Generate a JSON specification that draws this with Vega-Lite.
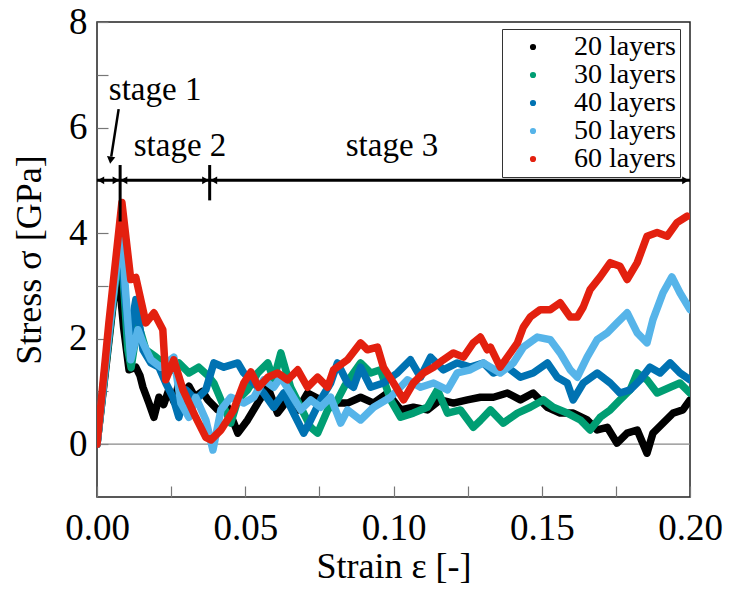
{
  "$schema": "https://vega.github.io/schema/vega-lite/v6.json",
  "width": 593,
  "height": 475,
  "autosize": {"type": "none"},
  "padding": {"left": 97, "top": 22, "right": 46, "bottom": 95},
  "background": "white",
  "config": {
    "font": "Liberation Serif",
    "view": {"stroke": "#222222", "strokeWidth": 1.5},
    "axis": {
      "grid": false,
      "domain": false,
      "tickColor": "#777777",
      "tickWidth": 1.2,
      "tickSize": -11,
      "labelFont": "Liberation Serif",
      "labelFontSize": 37,
      "labelColor": "black",
      "labelFlush": false,
      "labelBound": false,
      "labelOverlap": false,
      "titleFont": "Liberation Serif",
      "titleFontSize": 36,
      "titleFontWeight": "normal",
      "titleColor": "black"
    },
    "legend": {
      "labelFont": "Liberation Serif",
      "labelFontSize": 28,
      "labelColor": "black"
    }
  },
  "datasets": {
    "curves": [
      {"x":0,"y":0,"s":"20 layers"},{"x":0.0035,"y":1.7,"s":"20 layers"},{"x":0.0067,"y":3.27,"s":"20 layers"},{"x":0.0075,"y":3.1,"s":"20 layers"},{"x":0.009,"y":2.2,"s":"20 layers"},{"x":0.0108,"y":1.41,"s":"20 layers"},{"x":0.0131,"y":1.46,"s":"20 layers"},{"x":0.0145,"y":1.3,"s":"20 layers"},{"x":0.0155,"y":1.08,"s":"20 layers"},{"x":0.0175,"y":0.78,"s":"20 layers"},{"x":0.0192,"y":0.51,"s":"20 layers"},{"x":0.0209,"y":0.89,"s":"20 layers"},{"x":0.0225,"y":0.75,"s":"20 layers"},{"x":0.0242,"y":1.03,"s":"20 layers"},{"x":0.026,"y":0.8,"s":"20 layers"},{"x":0.0276,"y":1.16,"s":"20 layers"},{"x":0.029,"y":0.95,"s":"20 layers"},{"x":0.031,"y":1.1,"s":"20 layers"},{"x":0.033,"y":0.9,"s":"20 layers"},{"x":0.0355,"y":1.0,"s":"20 layers"},{"x":0.0374,"y":0.84,"s":"20 layers"},{"x":0.0407,"y":0.65,"s":"20 layers"},{"x":0.0441,"y":0.7,"s":"20 layers"},{"x":0.0475,"y":0.21,"s":"20 layers"},{"x":0.0508,"y":0.46,"s":"20 layers"},{"x":0.0542,"y":0.78,"s":"20 layers"},{"x":0.0576,"y":1.08,"s":"20 layers"},{"x":0.0609,"y":0.59,"s":"20 layers"},{"x":0.0643,"y":0.84,"s":"20 layers"},{"x":0.0677,"y":0.65,"s":"20 layers"},{"x":0.071,"y":0.97,"s":"20 layers"},{"x":0.0754,"y":0.84,"s":"20 layers"},{"x":0.0798,"y":0.78,"s":"20 layers"},{"x":0.0845,"y":0.78,"s":"20 layers"},{"x":0.0889,"y":0.89,"s":"20 layers"},{"x":0.0933,"y":0.78,"s":"20 layers"},{"x":0.098,"y":0.97,"s":"20 layers"},{"x":0.1024,"y":0.65,"s":"20 layers"},{"x":0.1067,"y":0.7,"s":"20 layers"},{"x":0.1114,"y":0.65,"s":"20 layers"},{"x":0.1158,"y":0.84,"s":"20 layers"},{"x":0.1202,"y":0.78,"s":"20 layers"},{"x":0.1249,"y":0.84,"s":"20 layers"},{"x":0.1293,"y":0.89,"s":"20 layers"},{"x":0.1337,"y":0.89,"s":"20 layers"},{"x":0.1384,"y":0.97,"s":"20 layers"},{"x":0.1428,"y":0.84,"s":"20 layers"},{"x":0.1471,"y":0.97,"s":"20 layers"},{"x":0.1519,"y":0.7,"s":"20 layers"},{"x":0.1562,"y":0.59,"s":"20 layers"},{"x":0.1606,"y":0.59,"s":"20 layers"},{"x":0.1653,"y":0.46,"s":"20 layers"},{"x":0.1687,"y":0.27,"s":"20 layers"},{"x":0.1721,"y":0.32,"s":"20 layers"},{"x":0.1754,"y":0.02,"s":"20 layers"},{"x":0.1788,"y":0.21,"s":"20 layers"},{"x":0.1822,"y":0.27,"s":"20 layers"},{"x":0.1855,"y":-0.17,"s":"20 layers"},{"x":0.1875,"y":0.21,"s":"20 layers"},{"x":0.1909,"y":0.4,"s":"20 layers"},{"x":0.1943,"y":0.59,"s":"20 layers"},{"x":0.1976,"y":0.65,"s":"20 layers"},{"x":0.2,"y":0.84,"s":"20 layers"},

      {"x":0,"y":0,"s":"30 layers"},{"x":0.004,"y":2.0,"s":"30 layers"},{"x":0.0077,"y":3.85,"s":"30 layers"},{"x":0.009,"y":3.0,"s":"30 layers"},{"x":0.0104,"y":1.79,"s":"30 layers"},{"x":0.0115,"y":1.45,"s":"30 layers"},{"x":0.0138,"y":2.3,"s":"30 layers"},{"x":0.0165,"y":1.79,"s":"30 layers"},{"x":0.0199,"y":1.65,"s":"30 layers"},{"x":0.0222,"y":1.54,"s":"30 layers"},{"x":0.025,"y":1.4,"s":"30 layers"},{"x":0.0276,"y":1.54,"s":"30 layers"},{"x":0.031,"y":1.35,"s":"30 layers"},{"x":0.0343,"y":1.46,"s":"30 layers"},{"x":0.0374,"y":1.3,"s":"30 layers"},{"x":0.0394,"y":1.16,"s":"30 layers"},{"x":0.0418,"y":0.84,"s":"30 layers"},{"x":0.0451,"y":0.4,"s":"30 layers"},{"x":0.0475,"y":0.84,"s":"30 layers"},{"x":0.0508,"y":1.03,"s":"30 layers"},{"x":0.0542,"y":1.35,"s":"30 layers"},{"x":0.0576,"y":1.54,"s":"30 layers"},{"x":0.0596,"y":1.22,"s":"30 layers"},{"x":0.062,"y":1.73,"s":"30 layers"},{"x":0.0653,"y":1.08,"s":"30 layers"},{"x":0.0687,"y":0.7,"s":"30 layers"},{"x":0.0721,"y":0.32,"s":"30 layers"},{"x":0.0744,"y":0.21,"s":"30 layers"},{"x":0.0778,"y":0.65,"s":"30 layers"},{"x":0.0811,"y":0.84,"s":"30 layers"},{"x":0.0835,"y":1.1,"s":"30 layers"},{"x":0.0855,"y":1.27,"s":"30 layers"},{"x":0.0889,"y":1.54,"s":"30 layers"},{"x":0.0923,"y":1.35,"s":"30 layers"},{"x":0.0956,"y":1.41,"s":"30 layers"},{"x":0.099,"y":0.84,"s":"30 layers"},{"x":0.1024,"y":0.51,"s":"30 layers"},{"x":0.1067,"y":0.59,"s":"30 layers"},{"x":0.1114,"y":0.7,"s":"30 layers"},{"x":0.1148,"y":1.03,"s":"30 layers"},{"x":0.1182,"y":0.59,"s":"30 layers"},{"x":0.1226,"y":0.65,"s":"30 layers"},{"x":0.1269,"y":0.32,"s":"30 layers"},{"x":0.1293,"y":0.45,"s":"30 layers"},{"x":0.1327,"y":0.65,"s":"30 layers"},{"x":0.137,"y":0.4,"s":"30 layers"},{"x":0.1418,"y":0.59,"s":"30 layers"},{"x":0.1461,"y":0.7,"s":"30 layers"},{"x":0.1505,"y":0.84,"s":"30 layers"},{"x":0.1539,"y":0.7,"s":"30 layers"},{"x":0.1586,"y":0.59,"s":"30 layers"},{"x":0.163,"y":0.46,"s":"30 layers"},{"x":0.1663,"y":0.27,"s":"30 layers"},{"x":0.1697,"y":0.51,"s":"30 layers"},{"x":0.1731,"y":0.65,"s":"30 layers"},{"x":0.1764,"y":0.84,"s":"30 layers"},{"x":0.1798,"y":1.03,"s":"30 layers"},{"x":0.1822,"y":1.35,"s":"30 layers"},{"x":0.1855,"y":1.22,"s":"30 layers"},{"x":0.1889,"y":0.97,"s":"30 layers"},{"x":0.1933,"y":1.08,"s":"30 layers"},{"x":0.1966,"y":1.16,"s":"30 layers"},{"x":0.2,"y":0.97,"s":"30 layers"},

      {"x":0,"y":0,"s":"40 layers"},{"x":0.004,"y":2.1,"s":"40 layers"},{"x":0.0077,"y":4.0,"s":"40 layers"},{"x":0.0095,"y":2.8,"s":"40 layers"},{"x":0.0108,"y":1.98,"s":"40 layers"},{"x":0.0131,"y":2.74,"s":"40 layers"},{"x":0.0155,"y":1.79,"s":"40 layers"},{"x":0.0182,"y":1.54,"s":"40 layers"},{"x":0.0209,"y":1.46,"s":"40 layers"},{"x":0.0232,"y":1.16,"s":"40 layers"},{"x":0.0256,"y":0.89,"s":"40 layers"},{"x":0.0276,"y":0.51,"s":"40 layers"},{"x":0.03,"y":1.03,"s":"40 layers"},{"x":0.0333,"y":0.84,"s":"40 layers"},{"x":0.0367,"y":1.03,"s":"40 layers"},{"x":0.0394,"y":1.54,"s":"40 layers"},{"x":0.0428,"y":1.46,"s":"40 layers"},{"x":0.0475,"y":1.54,"s":"40 layers"},{"x":0.0495,"y":1.35,"s":"40 layers"},{"x":0.0542,"y":1.08,"s":"40 layers"},{"x":0.0562,"y":0.97,"s":"40 layers"},{"x":0.0596,"y":0.7,"s":"40 layers"},{"x":0.063,"y":0.97,"s":"40 layers"},{"x":0.0663,"y":0.59,"s":"40 layers"},{"x":0.0697,"y":0.21,"s":"40 layers"},{"x":0.0721,"y":0.46,"s":"40 layers"},{"x":0.0754,"y":0.84,"s":"40 layers"},{"x":0.0788,"y":1.16,"s":"40 layers"},{"x":0.0811,"y":1.54,"s":"40 layers"},{"x":0.0845,"y":1.16,"s":"40 layers"},{"x":0.0865,"y":1.08,"s":"40 layers"},{"x":0.0889,"y":1.46,"s":"40 layers"},{"x":0.0923,"y":1.08,"s":"40 layers"},{"x":0.0966,"y":1.16,"s":"40 layers"},{"x":0.1013,"y":1.35,"s":"40 layers"},{"x":0.1057,"y":1.6,"s":"40 layers"},{"x":0.1091,"y":1.27,"s":"40 layers"},{"x":0.1125,"y":1.65,"s":"40 layers"},{"x":0.1168,"y":1.41,"s":"40 layers"},{"x":0.1215,"y":1.54,"s":"40 layers"},{"x":0.1259,"y":1.46,"s":"40 layers"},{"x":0.1303,"y":1.54,"s":"40 layers"},{"x":0.1337,"y":1.35,"s":"40 layers"},{"x":0.1384,"y":1.46,"s":"40 layers"},{"x":0.1428,"y":1.27,"s":"40 layers"},{"x":0.1471,"y":1.35,"s":"40 layers"},{"x":0.1519,"y":1.54,"s":"40 layers"},{"x":0.1552,"y":1.27,"s":"40 layers"},{"x":0.1586,"y":1.16,"s":"40 layers"},{"x":0.1606,"y":0.84,"s":"40 layers"},{"x":0.164,"y":1.16,"s":"40 layers"},{"x":0.1687,"y":1.35,"s":"40 layers"},{"x":0.1731,"y":1.16,"s":"40 layers"},{"x":0.1764,"y":0.97,"s":"40 layers"},{"x":0.1798,"y":1.03,"s":"40 layers"},{"x":0.1832,"y":1.22,"s":"40 layers"},{"x":0.1865,"y":1.46,"s":"40 layers"},{"x":0.1899,"y":1.35,"s":"40 layers"},{"x":0.1933,"y":1.54,"s":"40 layers"},{"x":0.1966,"y":1.35,"s":"40 layers"},{"x":0.2,"y":1.22,"s":"40 layers"},

      {"x":0,"y":0,"s":"50 layers"},{"x":0.004,"y":2.1,"s":"50 layers"},{"x":0.0084,"y":4.2,"s":"50 layers"},{"x":0.0095,"y":3.0,"s":"50 layers"},{"x":0.0114,"y":1.6,"s":"50 layers"},{"x":0.0138,"y":2.17,"s":"50 layers"},{"x":0.0155,"y":1.92,"s":"50 layers"},{"x":0.0182,"y":1.6,"s":"50 layers"},{"x":0.0215,"y":1.46,"s":"50 layers"},{"x":0.0259,"y":1.65,"s":"50 layers"},{"x":0.0283,"y":0.78,"s":"50 layers"},{"x":0.031,"y":0.51,"s":"50 layers"},{"x":0.0333,"y":0.89,"s":"50 layers"},{"x":0.0367,"y":0.46,"s":"50 layers"},{"x":0.0391,"y":-0.11,"s":"50 layers"},{"x":0.0418,"y":0.65,"s":"50 layers"},{"x":0.0451,"y":0.89,"s":"50 layers"},{"x":0.0495,"y":0.78,"s":"50 layers"},{"x":0.0529,"y":0.89,"s":"50 layers"},{"x":0.0562,"y":1.22,"s":"50 layers"},{"x":0.0596,"y":1.08,"s":"50 layers"},{"x":0.062,"y":1.27,"s":"50 layers"},{"x":0.0653,"y":0.97,"s":"50 layers"},{"x":0.0687,"y":0.65,"s":"50 layers"},{"x":0.0721,"y":0.84,"s":"50 layers"},{"x":0.0754,"y":0.7,"s":"50 layers"},{"x":0.0788,"y":0.89,"s":"50 layers"},{"x":0.0822,"y":0.4,"s":"50 layers"},{"x":0.0845,"y":0.65,"s":"50 layers"},{"x":0.0889,"y":0.46,"s":"50 layers"},{"x":0.0933,"y":0.7,"s":"50 layers"},{"x":0.099,"y":0.89,"s":"50 layers"},{"x":0.1047,"y":1.22,"s":"50 layers"},{"x":0.1091,"y":1.08,"s":"50 layers"},{"x":0.1135,"y":1.16,"s":"50 layers"},{"x":0.1182,"y":1.03,"s":"50 layers"},{"x":0.1215,"y":1.35,"s":"50 layers"},{"x":0.1259,"y":1.41,"s":"50 layers"},{"x":0.1303,"y":1.54,"s":"50 layers"},{"x":0.136,"y":1.35,"s":"50 layers"},{"x":0.1404,"y":1.54,"s":"50 layers"},{"x":0.1438,"y":1.84,"s":"50 layers"},{"x":0.1485,"y":2.03,"s":"50 layers"},{"x":0.1529,"y":1.98,"s":"50 layers"},{"x":0.1562,"y":1.73,"s":"50 layers"},{"x":0.1596,"y":1.41,"s":"50 layers"},{"x":0.162,"y":1.27,"s":"50 layers"},{"x":0.1653,"y":1.65,"s":"50 layers"},{"x":0.1687,"y":1.98,"s":"50 layers"},{"x":0.1721,"y":2.11,"s":"50 layers"},{"x":0.1754,"y":2.3,"s":"50 layers"},{"x":0.1788,"y":2.49,"s":"50 layers"},{"x":0.1822,"y":2.11,"s":"50 layers"},{"x":0.1855,"y":1.92,"s":"50 layers"},{"x":0.1875,"y":2.36,"s":"50 layers"},{"x":0.1909,"y":2.87,"s":"50 layers"},{"x":0.1939,"y":3.17,"s":"50 layers"},{"x":0.1966,"y":2.87,"s":"50 layers"},{"x":0.2,"y":2.55,"s":"50 layers"},

      {"x":0,"y":0,"s":"60 layers"},{"x":0.004,"y":2.3,"s":"60 layers"},{"x":0.0084,"y":4.58,"s":"60 layers"},{"x":0.0114,"y":3.12,"s":"60 layers"},{"x":0.0131,"y":3.16,"s":"60 layers"},{"x":0.0165,"y":2.3,"s":"60 layers"},{"x":0.0192,"y":2.49,"s":"60 layers"},{"x":0.0222,"y":2.17,"s":"60 layers"},{"x":0.0232,"y":1.22,"s":"60 layers"},{"x":0.0259,"y":1.6,"s":"60 layers"},{"x":0.029,"y":1.03,"s":"60 layers"},{"x":0.0333,"y":0.51,"s":"60 layers"},{"x":0.0367,"y":0.13,"s":"60 layers"},{"x":0.0384,"y":0.08,"s":"60 layers"},{"x":0.0418,"y":0.27,"s":"60 layers"},{"x":0.0461,"y":0.65,"s":"60 layers"},{"x":0.0495,"y":1.16,"s":"60 layers"},{"x":0.0519,"y":1.37,"s":"60 layers"},{"x":0.0545,"y":1.08,"s":"60 layers"},{"x":0.0576,"y":1.27,"s":"60 layers"},{"x":0.0609,"y":1.35,"s":"60 layers"},{"x":0.0643,"y":1.22,"s":"60 layers"},{"x":0.0677,"y":1.41,"s":"60 layers"},{"x":0.071,"y":1.08,"s":"60 layers"},{"x":0.0744,"y":1.27,"s":"60 layers"},{"x":0.0778,"y":1.08,"s":"60 layers"},{"x":0.0798,"y":1.41,"s":"60 layers"},{"x":0.0845,"y":1.6,"s":"60 layers"},{"x":0.0889,"y":1.92,"s":"60 layers"},{"x":0.0912,"y":1.79,"s":"60 layers"},{"x":0.0946,"y":1.84,"s":"60 layers"},{"x":0.0966,"y":1.46,"s":"60 layers"},{"x":0.1,"y":1.16,"s":"60 layers"},{"x":0.1034,"y":0.84,"s":"60 layers"},{"x":0.1067,"y":1.16,"s":"60 layers"},{"x":0.1101,"y":1.35,"s":"60 layers"},{"x":0.1135,"y":1.46,"s":"60 layers"},{"x":0.1168,"y":1.6,"s":"60 layers"},{"x":0.1202,"y":1.73,"s":"60 layers"},{"x":0.1236,"y":1.65,"s":"60 layers"},{"x":0.1269,"y":1.92,"s":"60 layers"},{"x":0.1293,"y":2.03,"s":"60 layers"},{"x":0.1316,"y":1.79,"s":"60 layers"},{"x":0.1327,"y":1.84,"s":"60 layers"},{"x":0.136,"y":1.46,"s":"60 layers"},{"x":0.1384,"y":1.65,"s":"60 layers"},{"x":0.1418,"y":1.92,"s":"60 layers"},{"x":0.1438,"y":2.22,"s":"60 layers"},{"x":0.1461,"y":2.41,"s":"60 layers"},{"x":0.1495,"y":2.55,"s":"60 layers"},{"x":0.1529,"y":2.55,"s":"60 layers"},{"x":0.1562,"y":2.68,"s":"60 layers"},{"x":0.1596,"y":2.41,"s":"60 layers"},{"x":0.162,"y":2.41,"s":"60 layers"},{"x":0.164,"y":2.6,"s":"60 layers"},{"x":0.1663,"y":2.93,"s":"60 layers"},{"x":0.1697,"y":3.17,"s":"60 layers"},{"x":0.1731,"y":3.44,"s":"60 layers"},{"x":0.1764,"y":3.37,"s":"60 layers"},{"x":0.1788,"y":3.12,"s":"60 layers"},{"x":0.1822,"y":3.44,"s":"60 layers"},{"x":0.1855,"y":3.94,"s":"60 layers"},{"x":0.1889,"y":4.01,"s":"60 layers"},{"x":0.1923,"y":3.94,"s":"60 layers"},{"x":0.1956,"y":4.2,"s":"60 layers"},{"x":0.199,"y":4.32,"s":"60 layers"}
    ]
  },
  "layer": [
    {
      "data": {"values": [{"v": 0}]},
      "mark": {"type": "rule", "color": "#888888", "strokeWidth": 1.2},
      "encoding": {"y": {"field": "v", "type": "quantitative"}}
    },
    {
      "data": {"name": "curves"},
      "mark": {"type": "line", "strokeWidth": 7.5, "strokeJoin": "round", "strokeCap": "round", "clip": true},
      "encoding": {
        "x": {
          "field": "x", "type": "quantitative",
          "scale": {"domain": [0, 0.2], "nice": false, "zero": false},
          "axis": {
            "title": "Strain ε [-]",
            "values": [0, 0.025, 0.05, 0.075, 0.1, 0.125, 0.15, 0.175, 0.2],
            "labelExpr": "abs(datum.value*20 - round(datum.value*20)) < 0.001 ? format(datum.value, '.2f') : ''",
            "labelPadding": 24,
            "labelDx": 11,
            "titlePadding": 3
          }
        },
        "y": {
          "field": "y", "type": "quantitative",
          "scale": {"domain": [-1, 8], "nice": false, "zero": false},
          "axis": {
            "title": "Stress σ [GPa]",
            "values": [0, 1, 2, 3, 4, 5, 6, 7, 8],
            "labelExpr": "datum.value % 2 == 0 ? datum.label : ''",
            "labelPadding": 21,
            "titlePadding": 20
          }
        },
        "color": {
          "field": "s", "type": "nominal",
          "scale": {
            "domain": ["20 layers", "30 layers", "40 layers", "50 layers", "60 layers"],
            "range": ["#000000", "#009E73", "#0072B2", "#56B4E9", "#E3200F"]
          },
          "legend": {
            "title": null,
            "orient": "none",
            "legendX": 405,
            "legendY": 7,
            "strokeColor": "#333333",
            "fillColor": "white",
            "padding": 4,
            "symbolType": "circle",
            "symbolSize": 10,
            "symbolStrokeWidth": 3,
            "symbolOffset": 13,
            "labelOffset": 27,
            "rowPadding": 0
          }
        }
      }
    },
    {
      "data": {"values": [{"x": 0, "x2": 0.2, "y": 5}]},
      "mark": {"type": "rule", "color": "black", "strokeWidth": 3},
      "encoding": {
        "x": {"field": "x", "type": "quantitative"},
        "x2": {"field": "x2"},
        "y": {"field": "y", "type": "quantitative"}
      }
    },
    {
      "data": {"values": [{"x": 0.0078, "y": 4.22, "y2": 5.29}, {"x": 0.038, "y": 4.62, "y2": 5.29}]},
      "mark": {"type": "rule", "color": "black", "strokeWidth": 3},
      "encoding": {
        "x": {"field": "x", "type": "quantitative"},
        "y": {"field": "y", "type": "quantitative"},
        "y2": {"field": "y2"}
      }
    },
    {
      "data": {"values": [{"x": 0.0073, "y": 6.35, "x2": 0.0048, "y2": 5.45}]},
      "mark": {"type": "rule", "color": "black", "strokeWidth": 2.5},
      "encoding": {
        "x": {"field": "x", "type": "quantitative"},
        "y": {"field": "y", "type": "quantitative"},
        "x2": {"field": "x2"},
        "y2": {"field": "y2"}
      }
    },
    {
      "data": {"values": [{"x": 0.0046, "y": 5.38}]},
      "mark": {"type": "point", "shape": "triangle-down", "filled": true, "color": "black", "size": 70, "angle": 8, "opacity": 1},
      "encoding": {
        "x": {"field": "x", "type": "quantitative"},
        "y": {"field": "y", "type": "quantitative"}
      }
    },
    {
      "data": {"values": [{"x": 0.0013, "y": 5}, {"x": 0.0091, "y": 5}, {"x": 0.0394, "y": 5}]},
      "mark": {"type": "point", "shape": "triangle-left", "filled": true, "color": "black", "size": 60, "opacity": 1},
      "encoding": {
        "x": {"field": "x", "type": "quantitative"},
        "y": {"field": "y", "type": "quantitative"}
      }
    },
    {
      "data": {"values": [{"x": 0.0064, "y": 5}, {"x": 0.0366, "y": 5}, {"x": 0.1985, "y": 5}]},
      "mark": {"type": "point", "shape": "triangle-right", "filled": true, "color": "black", "size": 60, "opacity": 1},
      "encoding": {
        "x": {"field": "x", "type": "quantitative"},
        "y": {"field": "y", "type": "quantitative"}
      }
    },
    {
      "data": {"values": [{"x": 0.0196, "y": 6.52, "t": "stage 1"}, {"x": 0.028, "y": 5.46, "t": "stage 2"}, {"x": 0.0995, "y": 5.46, "t": "stage 3"}]},
      "mark": {"type": "text", "font": "Liberation Serif", "fontSize": 33, "align": "center", "baseline": "alphabetic", "color": "black"},
      "encoding": {
        "x": {"field": "x", "type": "quantitative"},
        "y": {"field": "y", "type": "quantitative"},
        "text": {"field": "t"}
      }
    }
  ]
}
